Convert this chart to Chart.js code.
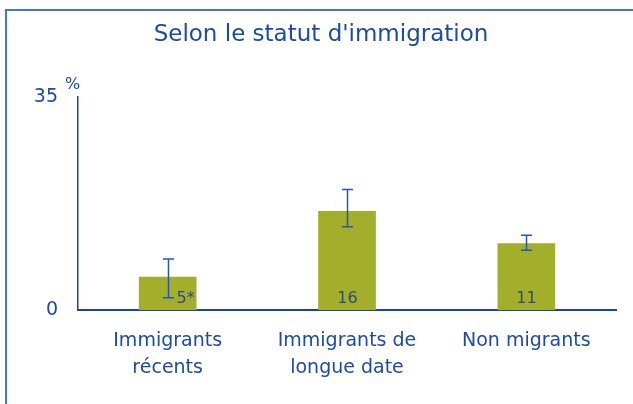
<!DOCTYPE html>
<html>
<head>
<meta charset="utf-8">
<script src="https://cdn.jsdelivr.net/npm/chart.js"></script>
<style>
  html, body { margin: 0; padding: 0; background: #fff; }
  #wrap { width: 633px; height: 404px; }
</style>
</head>
<body>
<div id="wrap"><canvas id="statusChart" width="633" height="404"></canvas></div>
<script>
// Selon le statut d'immigration
const categories = [['Immigrants', 'récents'], ['Immigrants de', 'longue date'], 'Non migrants'];
const values = [5.4, 16.2, 10.9];
const errLow = [2.0, 13.7, 9.8];
const errHigh = [8.4, 19.8, 12.3];
const valueLabels = ['5*', '16', '11'];
const yTicks = [0, 35];

const titleText = "Selon le statut d'immigration";
const unitText = '%';

const FONT = '"DejaVu Sans", Verdana, sans-serif';
const BLUE = '#1c4ca2';

// frame, title, unit, error bars and value labels
const extras = {
  id: 'extras',
  beforeDraw(chart) {
    const ctx = chart.ctx;
    ctx.save();
    // frame (left + top only)
    ctx.strokeStyle = '#4a74c4';
    ctx.lineWidth = 2;
    ctx.beginPath();
    ctx.moveTo(6, chart.height);
    ctx.lineTo(6, 10);
    ctx.lineTo(chart.width, 10);
    ctx.stroke();
    // title
    ctx.fillStyle = BLUE;
    ctx.font = '23px ' + FONT;
    ctx.textAlign = 'center';
    ctx.textBaseline = 'alphabetic';
    ctx.fillText(titleText, 321, 41);
    // unit next to top tick
    const y = chart.scales.y;
    ctx.font = '16px ' + FONT;
    ctx.textAlign = 'left';
    ctx.fillText(unitText, y.right - 13, y.getPixelForValue(yTicks[1]) - 8);
    ctx.restore();
  },
  afterDatasetsDraw(chart) {
    const ctx = chart.ctx;
    const y = chart.scales.y;
    const meta = chart.getDatasetMeta(0);
    const base = y.getPixelForValue(0);
    ctx.save();
    meta.data.forEach((bar, i) => {
      const yHi = y.getPixelForValue(errHigh[i]);
      const yLo = y.getPixelForValue(errLow[i]);
      const x = Math.round(bar.x) + 0.5;
      ctx.strokeStyle = '#2a55b6';
      ctx.lineWidth = 1.5;
      ctx.beginPath();
      ctx.moveTo(x, yHi); ctx.lineTo(x, yLo);
      ctx.moveTo(x - 5.5, yHi); ctx.lineTo(x + 5.5, yHi);
      ctx.moveTo(x - 5.5, yLo); ctx.lineTo(x + 5.5, yLo);
      ctx.stroke();

      // value label at the bottom of the bar; moved aside when the error bar reaches it
      ctx.fillStyle = '#2b4a86';
      ctx.font = '16px ' + FONT;
      ctx.textBaseline = 'middle';
      if (yLo > base - 22) {
        ctx.textAlign = 'left';
        ctx.fillText(valueLabels[i], x + 8, base - 11);
      } else {
        ctx.textAlign = 'center';
        ctx.fillText(valueLabels[i], x, base - 11);
      }
    });
    ctx.restore();
  }
};

const ctx = document.getElementById('statusChart').getContext('2d');
new Chart(ctx, {
  type: 'bar',
  data: {
    labels: categories,
    datasets: [{
      data: values,
      backgroundColor: '#a3ae2a',
      borderWidth: 0,
      barThickness: 57,
      categoryPercentage: 1
    }]
  },
  options: {
    responsive: false,
    animation: false,
    layout: { padding: { top: 97, right: 17, left: 0, bottom: 0 } },
    plugins: {
      legend: { display: false },
      tooltip: { enabled: false },
      title: { display: false }
    },
    scales: {
      y: {
        min: yTicks[0],
        max: yTicks[1],
        afterFit: s => { s.width = 78; },
        afterBuildTicks: s => { s.ticks = yTicks.map(v => ({ value: v })); },
        grid: { display: false, drawTicks: false },
        border: { display: true, color: '#1b43a3', width: 1.5 },
        ticks: { color: BLUE, font: { family: FONT, size: 19 }, padding: 20 }
      },
      x: {
        afterFit: s => { s.height = 94; },
        grid: { display: false, drawTicks: false },
        border: { display: true, color: '#1b43a3', width: 2 },
        ticks: { color: BLUE, font: { family: FONT, size: 19, lineHeight: 1.4 }, padding: 18, maxRotation: 0 }
      }
    }
  },
  plugins: [extras]
});
</script>
</body>
</html>
